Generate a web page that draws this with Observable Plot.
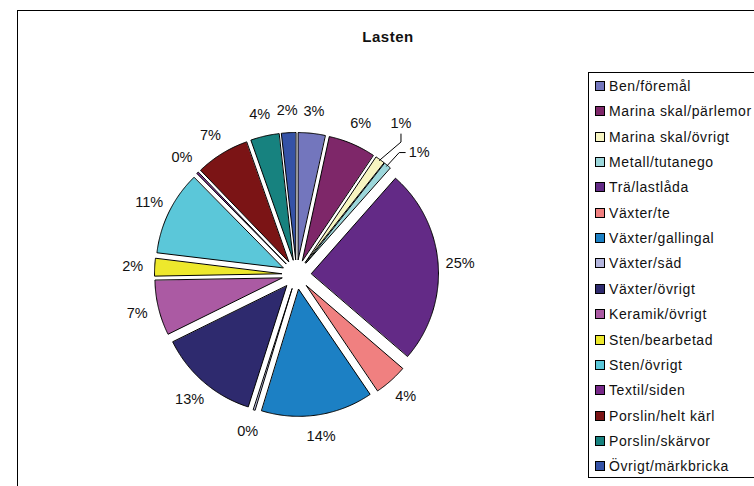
<!DOCTYPE html>
<html><head><meta charset="utf-8">
<script src="https://cdn.jsdelivr.net/npm/d3@7"></script>
<script src="https://cdn.jsdelivr.net/npm/@observablehq/plot@0.6"></script>
<style>
body{margin:0;background:#fff;font-family:"Liberation Sans",Arial,sans-serif;}
#wrap{position:relative;width:754px;height:486px;overflow:hidden;}
#frame{position:absolute;left:17px;top:10px;width:800px;height:600px;border:1px solid #000;box-sizing:border-box;}
#title{position:absolute;left:0;width:776px;top:28px;text-align:center;font-weight:bold;font-size:15px;letter-spacing:0.5px;color:#111;}
#legend{position:absolute;left:588px;top:72px;width:220px;height:406px;border:1px solid #000;box-sizing:border-box;}
.item{position:absolute;left:6px;height:16px;font-size:14px;letter-spacing:0.6px;white-space:nowrap;line-height:16px;color:#111;}
.sw{position:absolute;left:0;top:3px;width:8px;height:8px;border:1px solid #000;}
.lt{position:absolute;left:14px;top:0;}
#chart{position:absolute;left:0;top:0;}
</style>
</head><body>
<div id="wrap">
  <div id="frame"></div>
  <div id="title"></div>
  <div id="chart"></div>
  <div id="legend"></div>
</div>
<script>
const title = "Lasten";
const categories = ["Ben/föremål","Marina skal/pärlemor","Marina skal/övrigt","Metall/tutanego","Trä/lastlåda","Växter/te","Växter/gallingal","Växter/säd","Växter/övrigt","Keramik/övrigt","Sten/bearbetad","Sten/övrigt","Textil/siden","Porslin/helt kärl","Porslin/skärvor","Övrigt/märkbricka"];
const values = [3.4, 6.0, 1.2, 0.9, 24.8, 4.2, 14.2, 0.2, 12.8, 7.0, 2.2, 10.7, 0.2, 6.8, 3.6, 1.8];
const colors = ["#7376BD","#7E2769","#F7F5C1","#9CD7DB","#632A86","#F08080","#1C80C4","#B4B6DE","#2E2A6E","#AB5AA3","#EDE82C","#5BC7D9","#772889","#7B1415","#17827F","#3552A6"];

// layout
const W = 754, H = 486;
const cx = 296, cy = 274, R = 127, explode = 15, labelR = 164;
const labelAdjust = {"Marina skal/övrigt": {dr: 20, da: -1.4, leader: "below"}, "Metall/tutanego": {dr: 9, da: 5.4, leader: "left"}};

document.getElementById("title").textContent = title;

const total = d3.sum(values);
const pie = d3.pie().sort(null).value(d => d)(values);
const deg = Math.PI / 180;
const pt = (a, r, ox = 0, oy = 0) => [cx + ox + r * Math.sin(a), cy + oy - r * Math.cos(a)];

const slicePts = [];
const labels = [];
const leaders = [];
pie.forEach((p, i) => {
  const name = categories[i];
  const mid = (p.startAngle + p.endAngle) / 2;
  const ox = explode * Math.sin(mid), oy = -explode * Math.cos(mid);
  const apex = [cx + ox, cy + oy];
  const n = Math.max(2, Math.ceil((p.endAngle - p.startAngle) / (0.5 * deg)));
  const poly = [apex];
  for (let k = 0; k <= n; k++) {
    const a = p.startAngle + (p.endAngle - p.startAngle) * k / n;
    poly.push(pt(a, R, ox, oy));
  }
  poly.forEach(([x, y], k) => slicePts.push({name, x, y, k}));
  const adj = labelAdjust[name];
  const la = mid + (adj ? adj.da * deg : 0);
  const lr = labelR + (adj ? adj.dr : 0);
  const [lx, ly] = pt(la, lr);
  labels.push({name, x: lx, y: ly, text: Math.round(values[i] / total * 100) + "%"});
  if (adj) {
    const [sx, sy] = pt(mid, R + explode - 1);
    let elbow, end;
    if (adj.leader === "below") { elbow = [lx, ly + 19]; end = [lx, ly + 11]; }
    else { elbow = [lx - 20, ly]; end = [lx - 14, ly]; }
    [[sx, sy], elbow, end].forEach(([x, y], k) => leaders.push({name, x, y, k}));
  }
});

const chart = Plot.plot({
  width: W, height: H, margin: 0,
  x: {type: "identity", axis: null},
  y: {type: "identity", axis: null},
  color: {domain: categories, range: colors},
  style: {fontFamily: '"Liberation Sans", Arial, sans-serif', background: "transparent"},
  marks: [
    Plot.line(slicePts, {x: "x", y: "y", z: "name", fill: "name", stroke: "#000", strokeWidth: 1, curve: "linear-closed"}),
    Plot.line(leaders, {x: "x", y: "y", z: "name", stroke: "#000", strokeWidth: 1}),
    Plot.text(labels, {x: "x", y: "y", text: "text", fontSize: 14.5, fill: "#111", textAnchor: "middle", lineAnchor: "middle"})
  ]
});
document.getElementById("chart").appendChild(chart);

const leg = document.getElementById("legend");
const step = 25.35;
categories.forEach((c, i) => {
  const it = document.createElement("div");
  it.className = "item";
  it.style.top = (5 + i * step) + "px";
  it.innerHTML = `<span class="sw" style="background:${colors[i]}"></span><span class="lt"></span>`;
  it.querySelector(".lt").textContent = c;
  leg.appendChild(it);
});
</script>
</body></html>
